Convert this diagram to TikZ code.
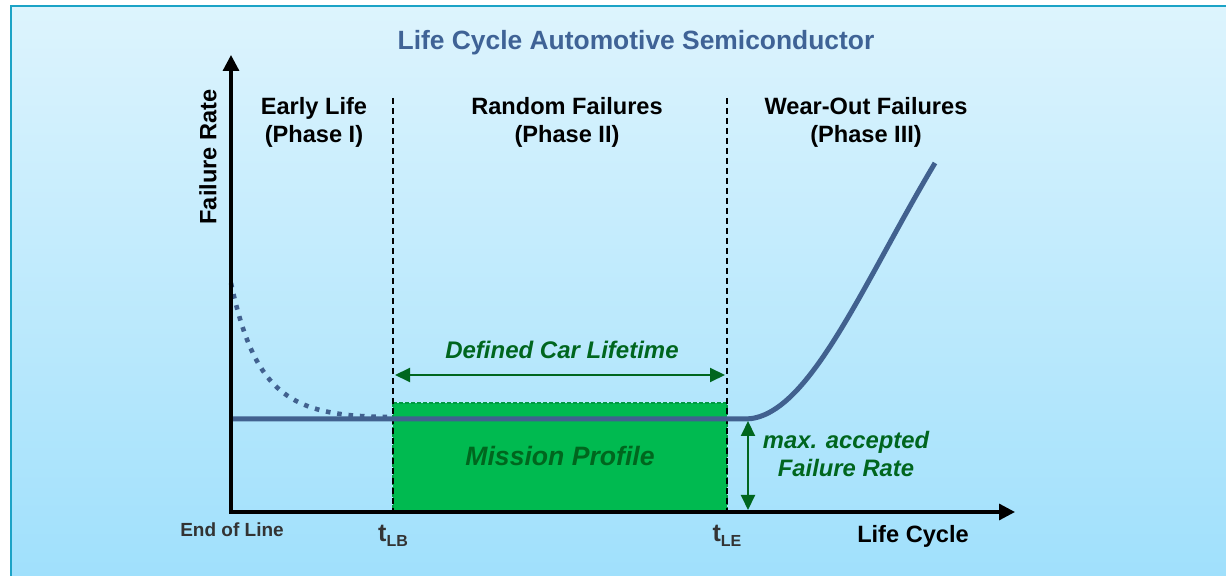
\documentclass[tikz,border=0pt]{standalone}
\usepackage{fontspec}
\setmainfont{Liberation Sans}
\usetikzlibrary{arrows.meta}
\definecolor{curveblue}{HTML}{41618F}
\definecolor{titleblue}{HTML}{3F6396}
\definecolor{darkgreen}{HTML}{00661E}
\definecolor{missiongreen}{HTML}{00BA50}
\definecolor{rimgreen}{HTML}{009A42}
\definecolor{bgtop}{HTML}{DDF4FD}
\definecolor{bgbottom}{HTML}{A0E0FC}
\definecolor{frameteal}{HTML}{1CA3C6}
\definecolor{labelgray}{HTML}{333333}
\begin{document}
\begin{tikzpicture}[
        x=0.5pt, y=-0.5pt,
        every node/.style={inner sep=0pt, align=center, font=\bfseries},
        axis/.style={line width=1.6pt, {Triangle[length=8pt,width=8pt]}-{Triangle[length=8pt,width=8pt]}},
        phaseline/.style={line width=1.1pt, dash pattern=on 3pt off 2pt},
        phaselabel/.style={font=\fontsize{11.8}{14}\selectfont\bfseries},
        greenlabel/.style={text=darkgreen, font=\fontsize{11.9}{14}\selectfont\bfseries\itshape},
        span/.style={darkgreen, line width=1pt, {Triangle[length=7.5pt,width=7pt]}-{Triangle[length=7.5pt,width=7pt]}},
        rate/.style={curveblue, line width=2.5pt},
        tick/.style={text=labelgray, font=\fontsize{12.5}{14}\selectfont\bfseries}
    ]
    \useasboundingbox (0,0) rectangle (1226,576);
    \fill[white] (0,0) rectangle (1226,576);
    \shade[top color=bgtop, bottom color=bgbottom] (11,6) rectangle (1226,576);
    \draw[frameteal, line width=1.2pt] (11,576) -- (11,6) -- (1226,6);

    \node[text=titleblue, font=\fontsize{13.2}{16}\selectfont\bfseries] (title) at (636,43) {Life Cycle Automotive Semiconductor};

    \coordinate (O) at (231,512);
    \coordinate (ytip) at (231,55);
    \coordinate (xtip) at (1015,512);
    \coordinate (lbtop) at (393,98);
    \coordinate (lb) at (393,512);
    \coordinate (letop) at (727,98);
    \coordinate (le) at (727,512);

    % mission profile block
    \fill[missiongreen] (393,403) rectangle (le);
    \draw[rimgreen, line width=0.8pt, dash pattern=on 2pt off 1pt] (393,403) rectangle (le);
    \node[greenlabel, font=\fontsize{13.3}{16}\selectfont\bfseries\itshape] (mission) at (560,456) {Mission Profile};

    \draw[phaseline] (lbtop) -- (lb);
    \draw[phaseline] (letop) -- (le);

    \node[phaselabel] (early) at (314,122) {Early Life\\(Phase I)};
    \node[phaselabel] (random) at (567,122) {Random Failures\\(Phase II)};
    \node[phaselabel] (wear) at (866,122) {Wear-Out Failures\\(Phase III)};

    % bathtub curve
    \coordinate (infant) at (231,283);
    \coordinate (flat) at (231,419);
    \coordinate (knee) at (745,419);
    \coordinate (wearend) at (935,163);
    \draw[rate, line width=2.3pt, dash pattern=on 2.3pt off 3.4pt] (infant) .. controls (255,395) and (290,417) .. (393,417);
    \draw[rate] (flat) -- (knee) .. controls (808,419) and (862,285) .. (wearend);

    \draw[axis] (ytip) -- (O) -- (xtip);

    \coordinate (lifeL) at (395,375);
    \coordinate (lifeR) at (725,375);
    \draw[span] (lifeL) -- (lifeR);
    \node[greenlabel, font=\fontsize{12}{14}\selectfont\bfseries\itshape] (lifetime) at (562,350) {Defined Car Lifetime};

    \coordinate (maxtop) at (748,421);
    \coordinate (maxbot) at (748,510);
    \draw[span] (maxtop) -- (maxbot);
    \node[greenlabel] (maxrate) at (846,454) {max. accepted\\Failure Rate};

    \node[phaselabel, rotate=90] (frate) at (208,157) {Failure Rate};
    \node[phaselabel] (lcycle) at (913,536) {Life Cycle};
    \node[text=labelgray, font=\fontsize{9.5}{12}\selectfont\bfseries] (eol) at (232,530) {End of Line};
    \node[tick, anchor=base] (tlb) at (393,542) {t\raisebox{-0.35ex}{\fontsize{8}{8}\selectfont LB}};
    \node[tick, anchor=base] (tle) at (727,542) {t\raisebox{-0.35ex}{\fontsize{8}{8}\selectfont LE}};
\end{tikzpicture}
\end{document}
